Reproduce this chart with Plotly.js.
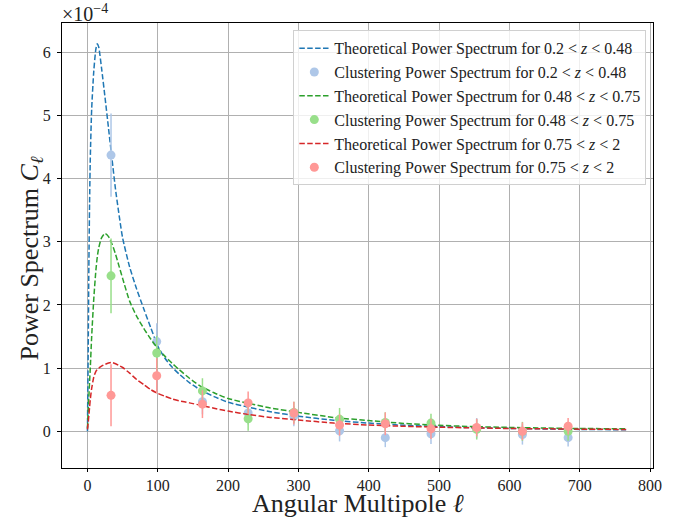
<!DOCTYPE html>
<html>
<head>
<meta charset="utf-8">
<script src="https://cdn.plot.ly/plotly-3.0.1.min.js"></script>
<style>html,body{margin:0;padding:0;background:#fff;}#chart{width:681px;height:520px;}</style>
</head>
<body>
<div id="chart"></div>
<script>
// Values in units of 1e-4
var ellTheory = [0, 1, 2, 3, 4, 6, 9, 12, 14, 16, 20, 25, 30, 35, 40, 45, 50, 60, 70, 80, 90, 100, 110, 120, 130, 145, 160, 180, 200, 230, 260, 300, 350, 400, 450, 500, 550, 600, 650, 700, 766];
var theoryLow = [0.0, 1.2, 2.6, 3.6, 4.3, 5.1, 5.7, 6.05, 6.13, 6.08, 5.75, 5.28, 4.79, 4.30, 3.82, 3.42, 3.06, 2.60, 2.25, 1.94, 1.64, 1.35, 1.16, 1.02, 0.91, 0.77, 0.66, 0.55, 0.46, 0.38, 0.31, 0.24, 0.175, 0.13, 0.097, 0.074, 0.058, 0.047, 0.038, 0.031, 0.025];
var theoryMid = [0.05, 0.3, 0.55, 0.78, 1.0, 1.5, 2.1, 2.55, 2.76, 2.9, 3.06, 3.13, 3.08, 2.96, 2.80, 2.61, 2.42, 2.06, 1.82, 1.63, 1.46, 1.31, 1.19, 1.08, 0.98, 0.84, 0.72, 0.61, 0.52, 0.44, 0.37, 0.30, 0.22, 0.17, 0.125, 0.095, 0.075, 0.062, 0.052, 0.045, 0.04];
var theoryHigh = [0.03, 0.13, 0.25, 0.38, 0.5, 0.68, 0.86, 0.95, 0.98, 1.0, 1.03, 1.06, 1.08, 1.09, 1.07, 1.04, 1.01, 0.92, 0.82, 0.74, 0.66, 0.60, 0.555, 0.515, 0.485, 0.45, 0.415, 0.365, 0.32, 0.265, 0.22, 0.18, 0.13, 0.10, 0.08, 0.065, 0.055, 0.045, 0.04, 0.035, 0.03];

var ellBins = [33.5, 98.5, 163.5, 228.5, 293.5, 358.5, 423.5, 488.5, 553.5, 618.5, 683.5];
var clusLow = [4.37, 1.42, 0.47, 0.29, 0.24, 0.01, -0.10, -0.04, 0.05, -0.05, -0.10];
var errLow = [0.66, 0.29, 0.20, 0.18, 0.16, 0.17, 0.15, 0.16, 0.16, 0.16, 0.14];
var clusMid = [2.46, 1.24, 0.64, 0.20, 0.30, 0.19, 0.14, 0.13, 0.03, 0.00, 0.00];
var errMid = [0.59, 0.27, 0.20, 0.19, 0.17, 0.18, 0.16, 0.15, 0.16, 0.15, 0.15];
var clusHigh = [0.57, 0.88, 0.43, 0.45, 0.29, 0.10, 0.12, 0.04, 0.06, 0.00, 0.08];
var errHigh = [0.49, 0.28, 0.22, 0.18, 0.18, 0.17, 0.18, 0.16, 0.14, 0.14, 0.13];

var xTicks = [0, 100, 200, 300, 400, 500, 600, 700, 800];
var yTicks = [0, 1, 2, 3, 4, 5, 6];

var FONT = 'Liberation Serif';
var dashStyle = '5.5px,2.4px';

function theory(y, color, name) {
  return {x: ellTheory, y: y, type: 'scatter', mode: 'lines', name: name,
    line: {color: color, width: 1.5, dash: dashStyle, shape: 'spline', smoothing: 0.6}};
}
function clus(y, e, color, name) {
  return {x: ellBins, y: y, type: 'scatter', mode: 'markers', name: name,
    marker: {color: color, size: 9},
    error_y: {type: 'data', array: e, visible: true, color: color, thickness: 1.5, width: 0}};
}

var traces = [
  theory(theoryLow, '#1f77b4', 'Theoretical Power Spectrum for 0.2 &lt; <i>z</i> &lt; 0.48'),
  clus(clusLow, errLow, '#aec7e8', 'Clustering Power Spectrum for 0.2 &lt; <i>z</i> &lt; 0.48'),
  theory(theoryMid, '#2ca02c', 'Theoretical Power Spectrum for 0.48 &lt; <i>z</i> &lt; 0.75'),
  clus(clusMid, errMid, '#98df8a', 'Clustering Power Spectrum for 0.48 &lt; <i>z</i> &lt; 0.75'),
  theory(theoryHigh, '#d62728', 'Theoretical Power Spectrum for 0.75 &lt; <i>z</i> &lt; 2'),
  clus(clusHigh, errHigh, '#ff9896', 'Clustering Power Spectrum for 0.75 &lt; <i>z</i> &lt; 2')
];

var axisCommon = {
  showline: true, mirror: true, linecolor: '#000', linewidth: 1,
  showgrid: true, gridcolor: '#b0b0b0', gridwidth: 1, zeroline: false,
  ticks: 'outside', ticklen: 4, tickcolor: '#000', tickwidth: 1,
  tickfont: {family: FONT, size: 16, color: '#222'}, automargin: false
};

var layout = {
  width: 681, height: 520,
  margin: {l: 62, r: 28, t: 23, b: 52},
  paper_bgcolor: '#fff', plot_bgcolor: '#fff',
  font: {family: FONT, color: '#222'},
  showlegend: true,
  legend: {x: 0.9887, y: 0.9836, xanchor: 'right', yanchor: 'top',
    bgcolor: 'rgba(255,255,255,0.8)', bordercolor: '#d0d0d0', borderwidth: 1,
    font: {family: FONT, size: 16, color: '#222'}, tracegroupgap: 0, itemwidth: 30},
  xaxis: Object.assign({}, axisCommon, {
    range: [-36.2, 804.2], tickvals: xTicks, ticktext: xTicks.map(String), ticklen: 3
  }),
  yaxis: Object.assign({}, axisCommon, {
    range: [-0.58, 6.46], tickvals: yTicks, ticktext: yTicks.map(String), ticklabelstandoff: 3
  }),
  annotations: [
    {xref: 'paper', yref: 'paper', x: 0, y: 1, xanchor: 'left', yanchor: 'bottom',
     text: '×10<sup>−4</sup>', showarrow: false, font: {family: FONT, size: 20, color: '#222'}, yshift: -4, xshift: -2},
    {xref: 'paper', yref: 'paper', x: 0.5, y: -0.1167, xanchor: 'center', yanchor: 'bottom',
     text: 'Angular Multipole <i>ℓ</i>', showarrow: false, font: {family: FONT, size: 26, color: '#222'}},
    {xref: 'paper', yref: 'paper', x: -0.053, y: 0.47, xanchor: 'center', yanchor: 'middle', textangle: -90,
     text: 'Power Spectrum <i>C</i><sub><i>ℓ</i></sub>', showarrow: false, font: {family: FONT, size: 26, color: '#222'}}
  ]
};

Plotly.newPlot('chart', traces, layout, {displayModeBar: false, staticPlot: true});
</script>
</body>
</html>
